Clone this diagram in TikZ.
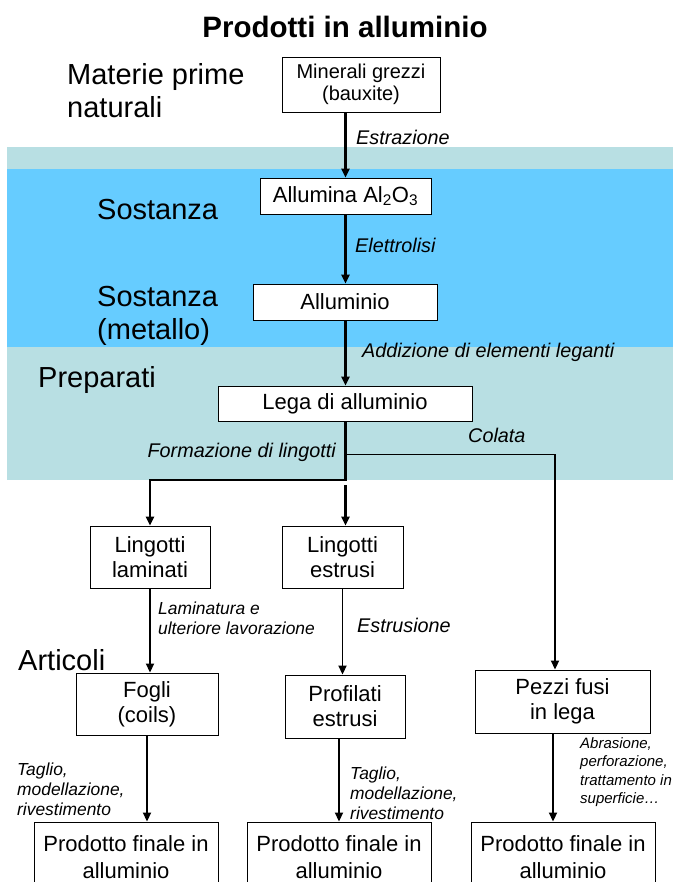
\documentclass[tikz,border=0pt]{standalone}
\usepackage{fontspec}
\setmainfont{Liberation Sans}
\usetikzlibrary{arrows.meta}
\definecolor{bandlight}{RGB}{184,223,227}
\definecolor{bandblue}{RGB}{102,204,255}
\begin{document}
\begin{tikzpicture}[x=1pt,y=-1pt,
  box/.style={draw=black, line width=0.9pt, fill=white, align=center, inner sep=0pt, font=\fontsize{22}{25}\selectfont},
  side/.style={anchor=west, align=left, inner sep=0pt, font=\fontsize{29}{33}\selectfont},
  lab/.style={anchor=west, align=left, inner sep=0pt, font=\fontsize{19.8}{21}\selectfont\itshape},
  slab/.style={anchor=west, align=left, inner sep=0pt, font=\fontsize{17.4}{20}\selectfont\itshape},
  arr/.style={line width=2.3pt, -{Triangle[length=9pt,width=8pt]}},
  arrb/.style={line width=1.8pt, -{Triangle[length=9pt,width=8pt]}},
  thinline/.style={line width=1pt}]
\useasboundingbox (0,0) rectangle (673,882);
\clip (0,0) rectangle (673,882);
\fill[white] (0,0) rectangle (673,882);
% bands
\fill[bandlight] (7,147) rectangle (673,169);
\fill[bandblue] (7,169) rectangle (673,347);
\fill[bandlight] (7,347) rectangle (673,480);
% title
\node[font=\fontsize{29.5}{33}\selectfont\bfseries] (title) at (345,27) {Prodotti in alluminio};
% side labels
\node[side] (s1) at (67,91) {Materie prime\\naturali};
\node[side] (s2) at (97,210) {Sostanza};
\node[side] (s3) at (97,316) {Sostanza\\(metallo)};
\node[side] (s4) at (38,380) {Preparati};
\node[side] (s5) at (18,660) {Articoli};
% boxes
\node[box, minimum width=158pt, minimum height=55pt, font=\fontsize{20}{22}\selectfont] (m1) at (361,84.5) {Minerali grezzi\\(bauxite)};
\node[box, minimum width=171pt, minimum height=36pt] (a2) at (345.5,196) {Allumina Al\textsubscript{2}O\textsubscript{3}};
\node[box, minimum width=184pt, minimum height=36pt] (a3) at (345,302) {Alluminio};
\node[box, minimum width=254pt, minimum height=35pt] (a4) at (345,403.5) {Lega di alluminio};
\node[box, minimum width=120pt, minimum height=62pt] (l1) at (150,557) {Lingotti\\laminati};
\node[box, minimum width=121pt, minimum height=62pt] (l2) at (342.5,557) {Lingotti\\estrusi};
\node[box, minimum width=142pt, minimum height=62pt] (f1) at (147,704) {Fogli\\(coils)};
\node[box, minimum width=120pt, minimum height=63pt] (f2) at (345,706.5) {Profilati\\estrusi};
\node[box, minimum width=175pt, minimum height=63pt] (f3) at (562.5,701.5) {Pezzi fusi\\in lega};
\node[box, minimum width=184pt, minimum height=70pt, font=\fontsize{22}{27}\selectfont] (p1) at (126,857) {Prodotto finale in\\alluminio};
\node[box, minimum width=184pt, minimum height=70pt, font=\fontsize{22}{27}\selectfont] (p2) at (339,857) {Prodotto finale in\\alluminio};
\node[box, minimum width=184pt, minimum height=70pt, font=\fontsize{22}{27}\selectfont] (p3) at (563,857) {Prodotto finale in\\alluminio};
% connectors
\coordinate (j) at (345.5,480);
\coordinate (j2) at (345.5,485);
\coordinate (cb) at (345.5,454);
\coordinate (cr) at (555,454);
\coordinate (c3) at (553,733);
\draw[arr] (m1.south -| a2.north) -- (a2.north);
\draw[arr] (a2.south) -- (a2.south |- a3.north);
\draw[arr] (a3.south -| a2.south) -- (a2.south |- a4.north);
\draw[arr] (a4.south -| j) -- (j) -| (l1.north);
\draw[arr] (j2) -- (j2 |- l2.north);
\draw[thinline] (cb) -- (cr);
\draw[arrb] (cr) -- (cr |- f3.north);
\draw[arrb] (l1.south) -- (l1.south |- f1.north);
\draw[arrb] (l2.south) -- (l2.south |- f2.north);
\draw[arrb] (f1.south) -- (f1.south |- p1.north);
\draw[arrb] (f2.south -| p2.north) -- (p2.north);
\draw[arrb] (c3) -- (c3 |- p3.north);
% connector labels
\node[lab] (e1) at (356,137) {Estrazione};
\node[lab] (e2) at (355,245) {Elettrolisi};
\node[lab] (e3) at (362,352) {Addizione di elementi leganti};
\node[lab] (e4) at (468,435) {Colata};
\node[lab, anchor=east] (e5) at (336,452) {Formazione di lingotti};
\node[slab] (e6) at (158,618) {Laminatura e\\ulteriore lavorazione};
\node[lab] (e7) at (357,625) {Estrusione};
\node[slab] (e8) at (17,789) {Taglio,\\modellazione,\\rivestimento};
\node[slab] (e9) at (350,793) {Taglio,\\modellazione,\\rivestimento};
\node[slab, font=\fontsize{15}{18.3}\selectfont\itshape] (e10) at (580,772) {Abrasione,\\perforazione,\\trattamento in\\superficie\ldots};
\end{tikzpicture}
\end{document}
